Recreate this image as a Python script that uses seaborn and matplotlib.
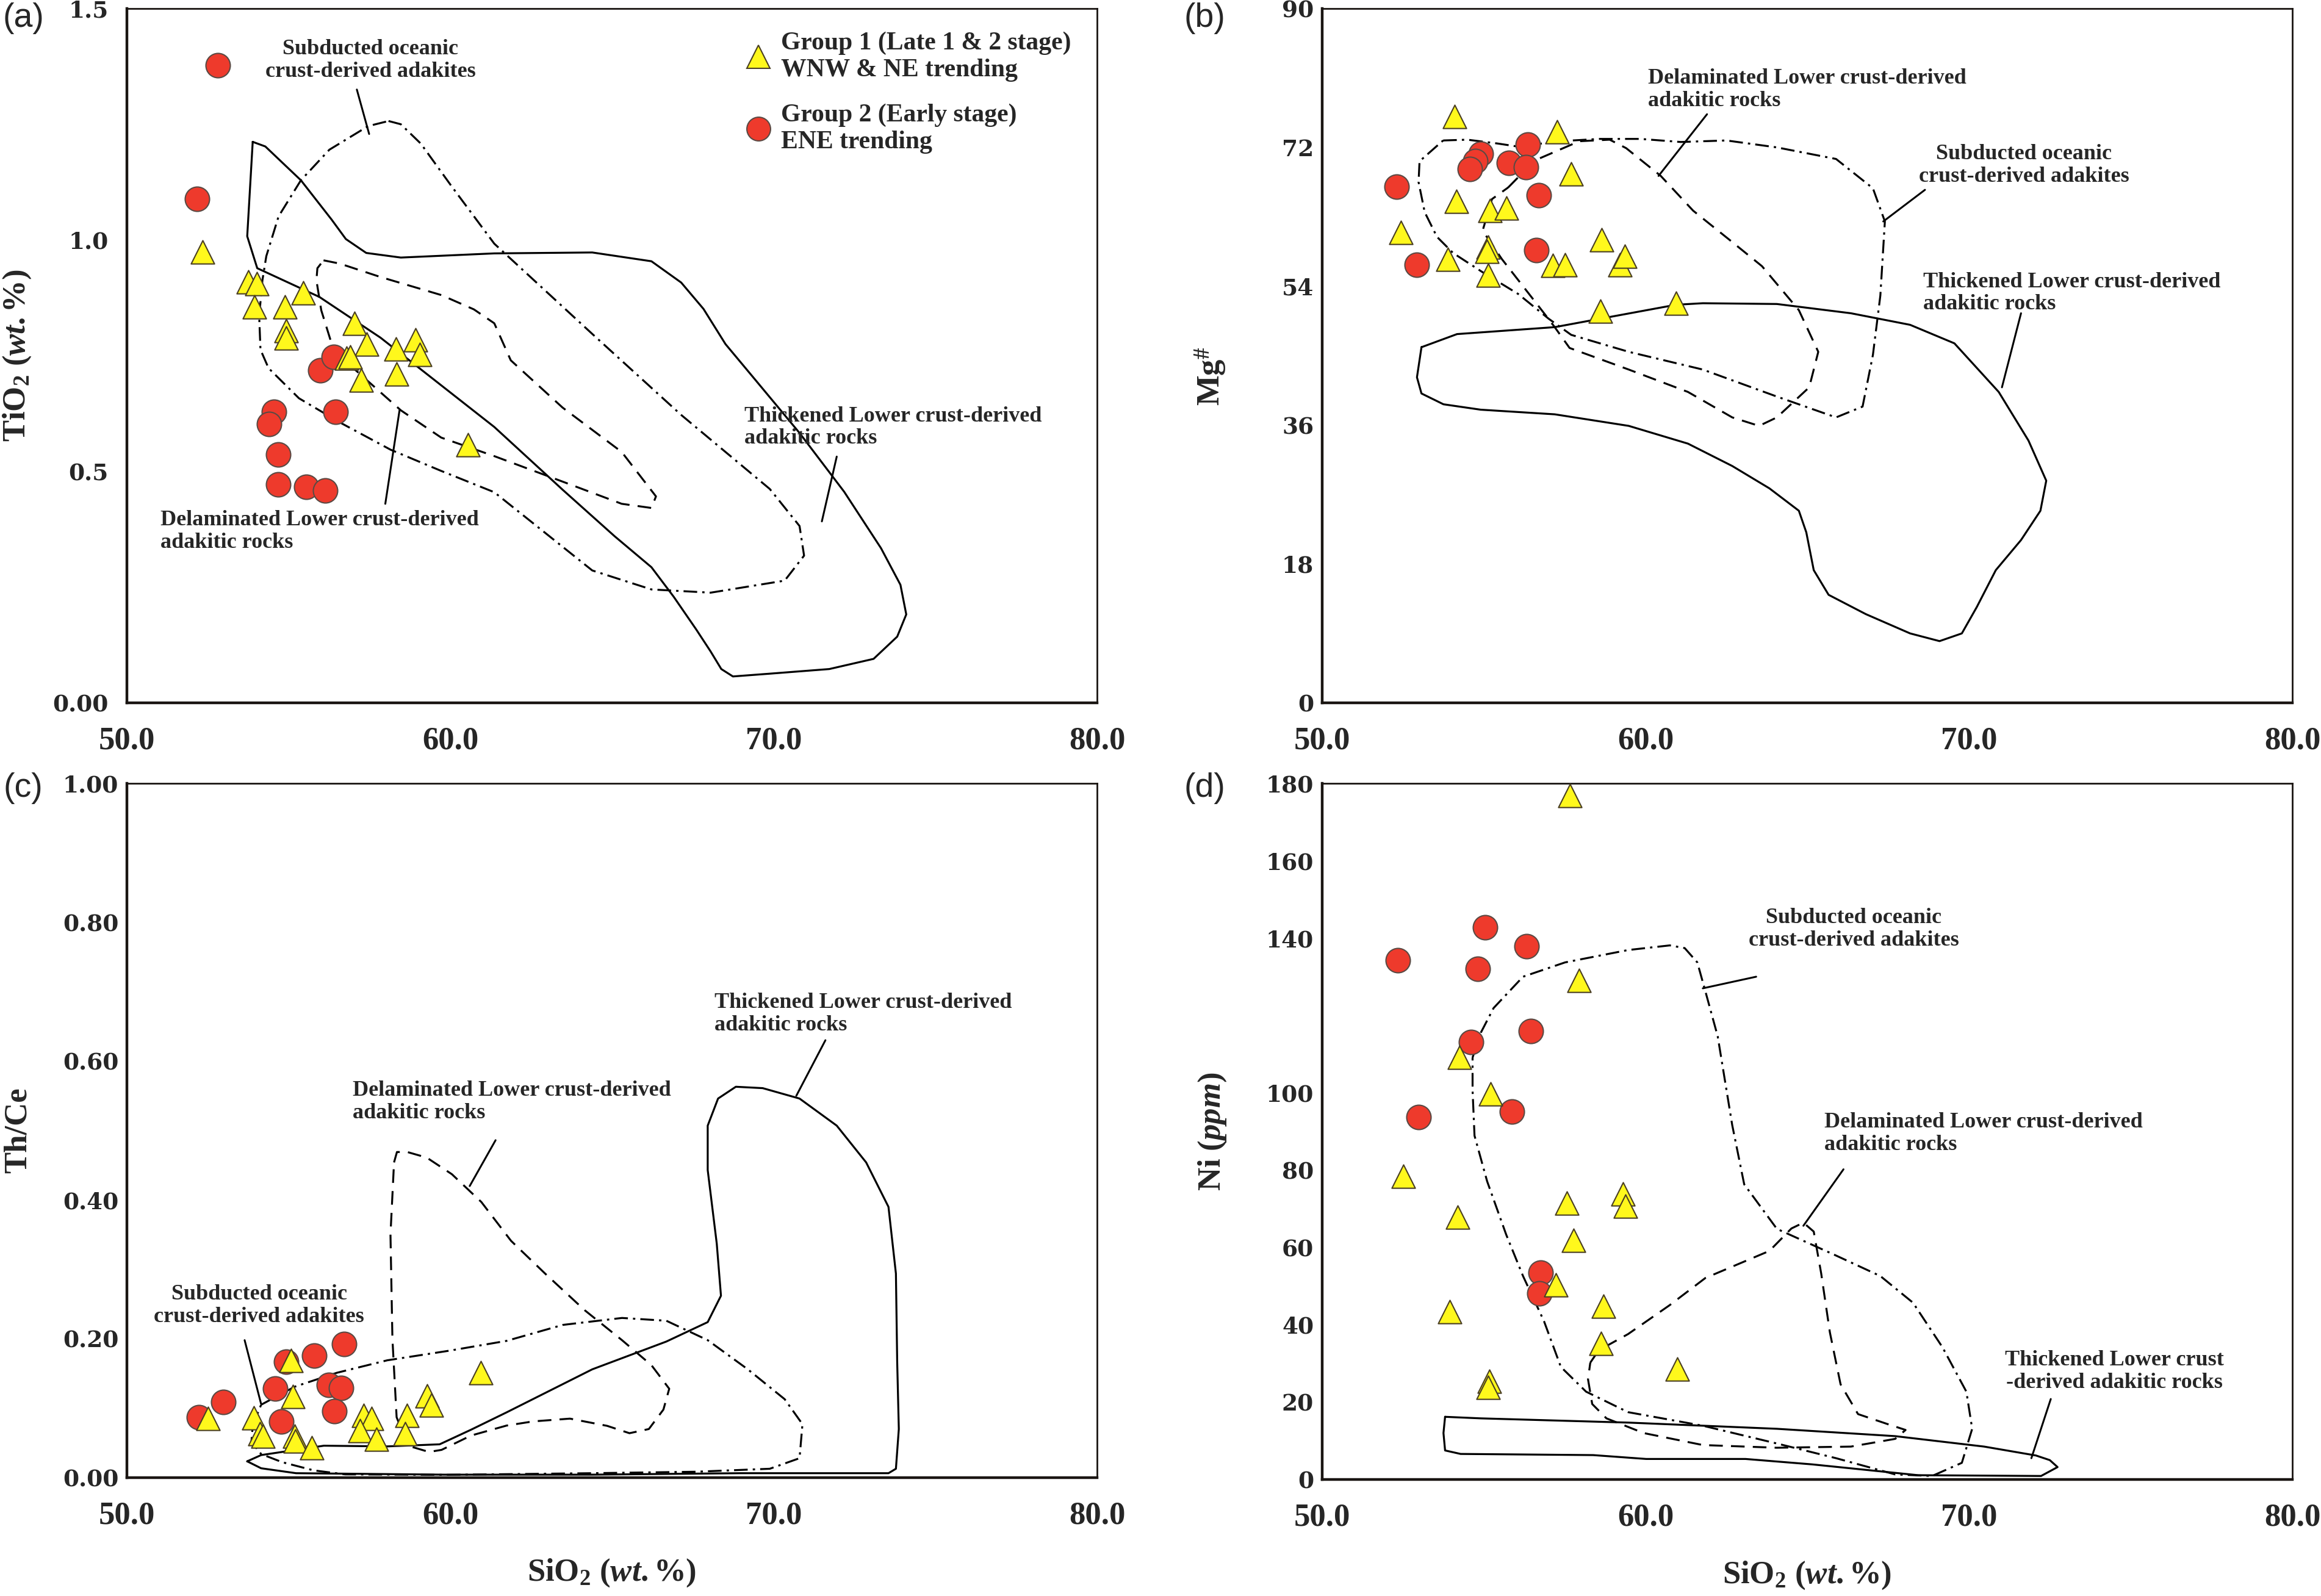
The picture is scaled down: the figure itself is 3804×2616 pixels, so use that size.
import numpy as np
import seaborn as sns
import matplotlib.pyplot as plt
from matplotlib.lines import Line2D

sns.set_style('white')
plt.rcParams['font.family'] = ['Liberation Serif', 'DejaVu Serif']
plt.rcParams['mathtext.fontset'] = 'custom'
plt.rcParams['mathtext.rm'] = 'Liberation Serif:bold'
plt.rcParams['mathtext.it'] = 'Liberation Serif:bold:italic'
plt.rcParams['mathtext.bf'] = 'Liberation Serif:bold'

# ---- sample points (group 1 = triangles, group 2 = circles) ----
# (a) SiO2 vs TiO2
sio2_a_g1 = [52.33, 53.75, 54.01, 53.95, 54.88, 55.46, 54.93, 54.93, 57.03, 57.42, 56.79, 56.91, 57.25, 58.32, 58.33, 58.92, 59.05, 60.54]
tio2_a_g1 = [0.974, 0.909, 0.905, 0.856, 0.856, 0.886, 0.804, 0.788, 0.820, 0.775, 0.745, 0.748, 0.697, 0.764, 0.710, 0.784, 0.752, 0.558]
sio2_a_g2 = [52.82, 52.17, 55.99, 56.39, 56.45, 54.55, 54.40, 54.67, 54.67, 55.54, 56.14]
tio2_a_g2 = [1.377, 1.089, 0.719, 0.748, 0.629, 0.629, 0.603, 0.537, 0.472, 0.466, 0.459]

# (b) SiO2 vs Mg#
sio2_b_g1 = [54.10, 57.27, 57.70, 54.15, 55.18, 55.69, 52.43, 53.89, 55.14, 55.09, 55.14, 57.13, 57.51, 58.65, 59.21, 59.36, 58.61, 60.94]
mg_b_g1 = [76.0, 74.0, 68.6, 65.0, 63.8, 64.1, 61.0, 57.5, 59.1, 58.5, 55.4, 56.7, 56.8, 60.0, 56.8, 57.9, 50.8, 51.8]
sio2_b_g2 = [52.31, 52.93, 54.90, 54.74, 54.57, 56.36, 55.78, 56.30, 56.70, 56.63]
mg_b_g2 = [66.9, 56.8, 71.2, 70.2, 69.2, 72.4, 70.0, 69.4, 65.8, 58.7]

# (c) SiO2 vs Th/Ce
sio2_c_g1 = [52.51, 53.92, 54.11, 54.20, 55.08, 55.14, 55.19, 55.21, 55.71, 57.32, 57.56, 57.20, 57.71, 58.66, 58.60, 59.28, 59.41, 60.94]
thce_c_g1 = [0.085, 0.086, 0.063, 0.060, 0.169, 0.117, 0.060, 0.053, 0.043, 0.090, 0.085, 0.068, 0.055, 0.090, 0.063, 0.118, 0.105, 0.151]
sio2_c_g2 = [52.23, 52.98, 54.93, 54.59, 54.78, 55.79, 56.72, 56.24, 56.63, 56.42]
thce_c_g2 = [0.087, 0.109, 0.167, 0.128, 0.081, 0.176, 0.192, 0.134, 0.129, 0.096]

# (d) SiO2 vs Ni
sio2_d_g1 = [57.66, 57.94, 54.25, 55.21, 52.51, 54.18, 57.57, 59.31, 59.38, 57.77, 57.22, 53.95, 58.69, 58.62, 60.99, 55.16, 55.14]
ni_d_g1 = [176.8, 129.1, 109.1, 99.7, 78.4, 67.8, 71.5, 73.9, 70.7, 61.9, 50.4, 43.4, 44.8, 35.2, 28.6, 25.4, 23.8]
sio2_d_g2 = [52.34, 55.04, 56.32, 54.81, 54.60, 56.45, 52.99, 55.86, 56.75, 56.72]
ni_d_g2 = [134.2, 142.7, 137.9, 132.1, 113.1, 116.0, 93.7, 95.1, 53.4, 48.1]

# ---- field outlines ----
thick_a = [(53.89, 1.212), (54.28, 1.202), (55.38, 1.129), (56.33, 1.044), (56.77, 1.002), (57.40, 0.972), (58.47, 0.962),
           (61.36, 0.971), (64.39, 0.973), (66.22, 0.954), (67.14, 0.908), (67.83, 0.851), (68.51, 0.775), (69.43, 0.698),
           (70.80, 0.583), (72.18, 0.456), (73.32, 0.334), (73.92, 0.255), (74.10, 0.191), (73.82, 0.143), (73.09, 0.095),
           (71.72, 0.073), (69.88, 0.063), (68.74, 0.057), (68.38, 0.073), (68.05, 0.111), (67.60, 0.159), (66.91, 0.229),
           (66.22, 0.293), (65.08, 0.360), (63.48, 0.460), (61.36, 0.596), (57.84, 0.789), (55.95, 0.877), (54.03, 0.939),
           (53.72, 1.008), (53.89, 1.212)]
subd_a = [(58.09, 1.257), (58.47, 1.250), (59.09, 1.208), (60.04, 1.116), (61.36, 0.992), (64.39, 0.797), (67.14, 0.622),
          (69.88, 0.462), (70.80, 0.382), (70.94, 0.318), (70.34, 0.264), (68.05, 0.238), (66.22, 0.245), (64.39, 0.286),
          (61.36, 0.455), (59.72, 0.501), (58.15, 0.547), (56.58, 0.606), (55.32, 0.658), (54.38, 0.723), (54.13, 0.763),
          (54.09, 0.835), (54.19, 0.913), (54.31, 0.965), (54.69, 1.051), (55.38, 1.129), (56.26, 1.195), (57.46, 1.246),
          (58.09, 1.257)]
delam_a = [(56.08, 0.956), (56.58, 0.949), (57.84, 0.920), (59.72, 0.881), (60.73, 0.850), (61.36, 0.820), (61.87, 0.740),
           (63.47, 0.638), (65.30, 0.542), (66.36, 0.446), (66.22, 0.421), (65.30, 0.430), (63.47, 0.478), (61.36, 0.533),
           (59.72, 0.573), (58.47, 0.632), (57.84, 0.671), (56.89, 0.730), (56.33, 0.776), (56.01, 0.848), (55.86, 0.913),
           (55.89, 0.939), (56.08, 0.956)]

thick_b = [(53.07, 46.1), (54.17, 47.8), (57.19, 48.7), (58.61, 49.8), (60.94, 51.6), (61.77, 51.8), (64.06, 51.7),
           (66.35, 50.5), (68.18, 49.0), (69.55, 46.6), (70.92, 40.3), (71.84, 34.0), (72.39, 28.8), (72.21, 24.9),
           (71.61, 21.1), (70.83, 17.2), (70.24, 12.4), (69.78, 9.0), (69.09, 8.0), (68.18, 9.0), (66.81, 11.5),
           (65.66, 14.0), (65.20, 17.2), (64.97, 22.1), (64.74, 24.9), (63.83, 27.8), (62.68, 30.7), (61.31, 33.6),
           (59.48, 35.9), (57.19, 37.4), (54.90, 38.0), (53.75, 38.7), (53.07, 40.1), (52.93, 42.2), (53.07, 46.1)]
subd_b = [(53.74, 72.9), (54.49, 73.0), (55.43, 72.5), (56.06, 72.1), (57.32, 72.8), (58.58, 73.1), (59.84, 73.1),
          (61.09, 72.7), (62.5, 72.9), (64.06, 72.0), (65.89, 70.5), (67.03, 66.7), (67.40, 62.4), (67.26, 52.8),
          (67.03, 45.1), (66.71, 38.4), (65.89, 37.0), (64.06, 39.7), (61.77, 43.2), (59.48, 45.5), (57.70, 47.7),
          (57.00, 49.8), (56.06, 53.0), (54.93, 55.9), (54.05, 58.3), (53.55, 60.4), (53.17, 63.6), (52.98, 67.5),
          (53.01, 70.2), (53.74, 72.9)]
delam_b = [(55.75, 66.8), (56.57, 70.3), (57.95, 72.8), (58.89, 73.0), (59.40, 71.9), (60.47, 68.3), (61.47, 63.8),
           (62.60, 60.0), (63.60, 56.6), (64.74, 50.9), (65.34, 45.5), (65.06, 40.9), (64.06, 37.0), (63.51, 35.9),
           (62.68, 37.0), (61.31, 40.3), (59.48, 43.2), (57.65, 46.0), (57.19, 48.7), (56.88, 50.4), (55.56, 57.5),
           (54.96, 61.2), (55.25, 65.3), (55.75, 66.8)]

thick_c = [(53.72, 0.0235), (54.15, 0.0325), (56.09, 0.046), (58.05, 0.045), (59.67, 0.048), (60.64, 0.069), (61.74, 0.094),
           (64.39, 0.156), (66.68, 0.196), (67.96, 0.224), (68.37, 0.262), (68.24, 0.337), (67.96, 0.443), (67.96, 0.507),
           (68.28, 0.546), (68.83, 0.563), (69.66, 0.561), (70.80, 0.546), (71.95, 0.507), (72.86, 0.454), (73.55, 0.390),
           (73.78, 0.294), (73.82, 0.166), (73.87, 0.070), (73.78, 0.0128), (73.55, 0.0064), (68.97, 0.0064),
           (64.39, 0.0043), (59.81, 0.0043), (55.23, 0.0064), (54.15, 0.0135), (53.72, 0.0235)]
subd_c = [(54.15, 0.105), (55.19, 0.131), (56.49, 0.151), (58.05, 0.169), (59.99, 0.183), (61.74, 0.197), (63.48, 0.220),
          (65.31, 0.230), (66.68, 0.226), (67.96, 0.198), (69.20, 0.156), (70.34, 0.113), (70.89, 0.077), (70.80, 0.028),
          (69.88, 0.0128), (67.59, 0.0085), (64.39, 0.0064), (59.81, 0.004), (56.75, 0.0047), (55.77, 0.0105),
          (54.80, 0.0223), (54.15, 0.034), (53.85, 0.0516), (53.89, 0.075), (54.15, 0.105)]
delam_c = [(58.26, 0.454), (58.35, 0.469), (58.67, 0.469), (59.27, 0.461), (60.05, 0.437), (60.96, 0.397), (61.88, 0.341),
           (62.93, 0.294), (64.16, 0.241), (65.31, 0.198), (66.22, 0.162), (66.77, 0.128), (66.59, 0.098), (66.14, 0.070),
           (65.54, 0.064), (64.85, 0.0746), (63.70, 0.085), (62.56, 0.081), (61.74, 0.075), (60.64, 0.0606),
           (59.73, 0.040), (59.34, 0.037), (58.69, 0.046), (58.34, 0.087), (58.21, 0.20), (58.15, 0.35), (58.26, 0.454)]

thick_d = [(53.80, 16.2), (54.90, 15.8), (59.48, 14.7), (64.06, 13.1), (67.72, 11.2), (70.47, 8.5), (72.07, 6.2),
           (72.50, 5.0), (72.74, 3.2), (72.23, 0.9), (68.43, 1.1), (65.15, 3.9), (63.09, 5.3), (60.02, 5.3),
           (58.38, 6.3), (54.28, 6.6), (53.80, 7.5), (53.75, 12.0), (53.80, 16.2)]
subd_d = [(54.65, 109.1), (54.91, 115.6), (55.30, 121.9), (56.21, 130.0), (57.51, 133.7), (59.46, 136.9), (60.75, 138.1),
          (61.21, 137.4), (61.60, 133.7), (61.85, 126.2), (62.23, 114.6), (62.68, 91.6), (63.05, 76.3), (64.06, 64.8),
          (65.89, 57.9), (67.26, 52.6), (68.27, 45.7), (69.18, 34.2), (69.92, 22.7), (70.10, 13.1), (69.78, 4.3),
          (68.86, 0.9), (67.72, 1.3), (65.89, 5.5), (64.06, 9.3), (61.77, 13.9), (59.46, 17.4), (58.16, 22.7),
          (57.38, 29.1), (56.86, 40.9), (56.21, 52.6), (55.69, 63.3), (55.10, 77.1), (54.71, 88.9), (54.65, 100.6),
          (54.65, 109.1)]
delam_d = [(58.29, 30.2), (58.55, 33.4), (59.46, 37.6), (60.75, 45.1), (61.85, 52.1), (63.83, 59.1), (64.51, 64.9),
           (64.88, 66.4), (65.20, 64.1), (65.43, 53.3), (65.70, 38.0), (66.03, 24.6), (66.57, 16.9), (67.49, 14.3),
           (68.04, 12.8), (67.72, 10.5), (66.35, 8.5), (64.06, 8.2), (61.77, 8.9), (59.94, 12.0), (58.79, 15.8),
           (58.35, 19.5), (58.22, 25.9), (58.29, 30.2)]

# ---- axes setup ----
x_ticks = [50, 60, 70, 80]
x_ticklabels = ['50.0', '60.0', '70.0', '80.0']
yt_a = [0, 0.5, 1.0, 1.5]
yl_a = ['0.00', '0.5', '1.0', '1.5']
yt_b = [0, 18, 36, 54, 72, 90]
yl_b = ['0', '18', '36', '54', '72', '90']
yt_c = [0, 0.2, 0.4, 0.6, 0.8, 1.0]
yl_c = ['0.00', '0.20', '0.40', '0.60', '0.80', '1.00']
yt_d = [0, 20, 40, 60, 80, 100, 120, 140, 160, 180]
yl_d = ['0', '20', '40', '60', '80', '100', '', '140', '160', '180']

RED = '#EE3A2C'
YEL = '#FFF81C'
TRI_EDGE = '#4a3f22'
CIR_EDGE = '#5a4a44'

LW = 2.3
DASH = [7.0, 4.2]
DASHDOT = [7.0, 2.6, 1.2, 2.6]

fig = plt.figure(figsize=(38.05, 26.16), dpi=100)
ax_a = fig.add_axes([0.05467, 0.55963, 0.41787, 0.43502])
ax_b = fig.add_axes([0.56952, 0.55963, 0.41787, 0.43502])
ax_c = fig.add_axes([0.05467, 0.07416, 0.41787, 0.43502])
ax_d = fig.add_axes([0.56952, 0.07302, 0.41787, 0.43616])


def outline(ax, pts, style):
    xs = [p[0] for p in pts]
    ys = [p[1] for p in pts]
    if style == 'solid':
        ax.plot(xs, ys, color='black', lw=LW, solid_joinstyle='round', zorder=2)
    elif style == 'dash':
        ax.plot(xs, ys, color='black', lw=LW, dashes=DASH, zorder=2)
    else:
        ax.plot(xs, ys, color='black', lw=LW, dashes=DASHDOT, zorder=2)


def label(ax, x, y, text, ha, leader):
    ax.text(x, y, text, ha=ha, va='center', fontsize=26, fontweight='bold',
            family='Liberation Serif', multialignment=ha, linespacing=1.15, zorder=5)
    (x0, y0), (x1, y1) = leader
    ax.plot([x0, x1], [y0, y1], color='black', lw=2.2, zorder=2)


def points(ax, x1, y1, x2, y2):
    sns.scatterplot(x=x2, y=y2, ax=ax, marker='o', s=830, color=RED, edgecolor=CIR_EDGE,
                    linewidth=1.5, zorder=3, legend=False)
    sns.scatterplot(x=x1, y=y1, ax=ax, marker='^', s=760, color=YEL, edgecolor=TRI_EDGE,
                    linewidth=1.5, zorder=4, legend=False)


def style_axes(ax, ylim, yt, yl, ylabel, ylabel_y, ypad, xlabel=None):
    ax.set_xlim(50, 80)
    ax.set_ylim(*ylim)
    ax.set_xticks(x_ticks)
    ax.set_xticklabels(x_ticklabels, fontsize=38, fontweight='bold', family='Liberation Serif')
    ax.set_yticks(yt)
    ax.set_yticklabels(yl, fontsize=27, fontweight='bold', family='DejaVu Serif')
    ax.tick_params(axis='both', direction='in', length=16, width=2, color='black')
    ax.tick_params(axis='x', pad=28)
    ax.tick_params(axis='y', pad=ypad)
    ax.set_xlabel('')
    ax.set_ylabel(ylabel, fontsize=38, fontweight='bold')
    ax.yaxis.set_label_coords(-0.097, ylabel_y)
    if xlabel:
        ax.set_xlabel(xlabel, fontsize=38, fontweight='bold')
        ax.xaxis.set_label_coords(0.5, -0.115)
    for side in ['left', 'bottom']:
        ax.spines[side].set_linewidth(3.2)
        ax.spines[side].set_color('#1a1512')
    for side in ['top', 'right']:
        ax.spines[side].set_linewidth(2.0)
        ax.spines[side].set_color('#1a1512')
    ax.grid(False)


# (a)
outline(ax_a, thick_a, 'solid')
outline(ax_a, subd_a, 'dashdot')
outline(ax_a, delam_a, 'dash')
points(ax_a, sio2_a_g1, tio2_a_g1, sio2_a_g2, tio2_a_g2)
label(ax_a, 57.53, 1.388, 'Subducted oceanic\ncrust-derived adakites', 'center', [(57.11, 1.325), (57.49, 1.229)])
label(ax_a, 69.1, 0.595, 'Thickened Lower crust-derived\nadakitic rocks', 'left', [(71.95, 0.532), (71.49, 0.392)])
label(ax_a, 51.03, 0.37, 'Delaminated Lower crust-derived\nadakitic rocks', 'left', [(57.99, 0.43), (58.43, 0.632)])
style_axes(ax_a, (0, 1.5), yt_a, yl_a, 'TiO$_2$ $\\mathit{(wt.\\%)}$', 0.5, 22)

handles = [Line2D([], [], marker='^', ls='none', markersize=27, markerfacecolor=YEL,
                  markeredgecolor=TRI_EDGE, markeredgewidth=1.5),
           Line2D([], [], marker='o', ls='none', markersize=28, markerfacecolor=RED,
                  markeredgecolor=CIR_EDGE, markeredgewidth=1.5)]
labels = ['Group 1 (Late 1 & 2 stage)\nWNW & NE trending', 'Group 2 (Early stage)\nENE trending']
ax_a.legend(handles, labels, loc='upper left', bbox_to_anchor=(0.622, 0.985), frameon=False,
            prop={'family': 'Liberation Serif', 'weight': 'bold', 'size': 30},
            handletextpad=0.3, labelspacing=0.85, borderpad=0, handlelength=1.2)

# (b)
outline(ax_b, thick_b, 'solid')
outline(ax_b, subd_b, 'dashdot')
outline(ax_b, delam_b, 'dash')
points(ax_b, sio2_b_g1, mg_b_g1, sio2_b_g2, mg_b_g2)
label(ax_b, 60.07, 79.5, 'Delaminated Lower crust-derived\nadakitic rocks', 'left', [(61.9, 76.3), (60.4, 68.3)])
label(ax_b, 71.7, 69.65, 'Subducted oceanic\ncrust-derived adakites', 'center', [(68.64, 66.5), (67.35, 62.4)])
label(ax_b, 68.59, 53.1, 'Thickened Lower crust-derived\nadakitic rocks', 'left', [(71.61, 50.5), (71.02, 40.9)])
style_axes(ax_b, (0, 90), yt_b, yl_b, 'Mg$^{\\#}$', 0.47, 10)

# (c)
outline(ax_c, thick_c, 'solid')
outline(ax_c, subd_c, 'dashdot')
outline(ax_c, delam_c, 'dash')
points(ax_c, sio2_c_g1, thce_c_g1, sio2_c_g2, thce_c_g2)
label(ax_c, 68.17, 0.668, 'Thickened Lower crust-derived\nadakitic rocks', 'left', [(71.6, 0.63), (70.7, 0.55)])
label(ax_c, 56.98, 0.541, 'Delaminated Lower crust-derived\nadakitic rocks', 'left', [(61.4, 0.486), (60.6, 0.42)])
label(ax_c, 54.09, 0.248, 'Subducted oceanic\ncrust-derived adakites', 'center', [(53.64, 0.198), (54.15, 0.106)])
style_axes(ax_c, (0, 1.0), yt_c, yl_c, 'Th/Ce', 0.5, 10, 'SiO$_2$ $\\mathit{(wt.\\%)}$')

# (d)
outline(ax_d, thick_d, 'solid')
outline(ax_d, subd_d, 'dashdot')
outline(ax_d, delam_d, 'dash')
points(ax_d, sio2_d_g1, ni_d_g1, sio2_d_g2, ni_d_g2)
label(ax_d, 66.44, 142.3, 'Subducted oceanic\ncrust-derived adakites', 'center', [(63.42, 130.0), (61.77, 127.0)])
label(ax_d, 65.52, 89.5, 'Delaminated Lower crust-derived\nadakitic rocks', 'left', [(66.12, 80.2), (64.88, 65.6)])
label(ax_d, 74.5, 27.9, 'Thickened Lower crust\n-derived adakitic rocks', 'center', [(72.53, 20.8), (71.93, 5.5)])
style_axes(ax_d, (0, 180), yt_d, yl_d, 'Ni $\\mathit{(ppm)}$', 0.5, 10, 'SiO$_2$ $\\mathit{(wt.\\%)}$')

# panel letters
for letter, fx, fy in [('(a)', 0.010, 0.9885), ('(b)', 0.5188, 0.9885), ('(c)', 0.010, 0.5061), ('(d)', 0.5188, 0.5061)]:
    fig.text(fx, fy, letter, fontsize=40, family='Liberation Sans', ha='center', va='center')

fig.savefig('out.png', dpi=100, facecolor='white')
